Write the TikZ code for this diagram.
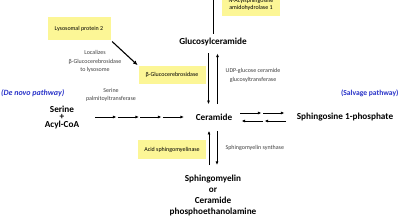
\documentclass[tikz,border=0pt]{standalone}
\usepackage{fontspec}
\setmainfont{Carlito}
\usetikzlibrary{arrows.meta,calc}

\definecolor{enzyellow}{RGB}{252,246,150}
\definecolor{pathblue}{RGB}{40,50,200}

\tikzset{
  metab/.style={font=\fontsize{9.2}{11}\selectfont\bfseries, align=center},
  enzyme/.style={fill=enzyellow, font=\fontsize{6}{7}\selectfont, align=center},
  note/.style={font=\fontsize{6}{8.5}\selectfont, align=center, text=black!75},
  pathway/.style={font=\fontsize{7.6}{8}\selectfont\bfseries, text=pathblue},
  rxn/.style={-{Latex[length=3.6pt,width=3pt]}, line width=0.8pt}
}

\begin{document}
\begin{tikzpicture}[x=1pt,y=-1pt]
        \useasboundingbox (0,0) rectangle (400,220);
        \clip (0,0) rectangle (400,220);

        % Metabolites
        \node[metab] (glc) at (213,42) {Glucosylceramide};
        \node[metab] (cer) at (214,117) {Ceramide};
        \node[metab] (s1p) at (345,117) {Sphingosine 1-phosphate};
        \node[metab] (ser) at (62,117) {Serine\\[-3.5pt]+\\[-3.5pt]Acyl-CoA};
        \node[metab] (sm) at (213,195) {Sphingomyelin\\or\\Ceramide\\phosphoethanolamine};

        % Enzymes (yellow boxes)
        \node[enzyme, minimum width=63pt, minimum height=23pt] (lp2) at (79,28.5) {Lysosomal protein 2};
        \node[enzyme, minimum width=67pt, minimum height=18pt] (gcb) at (172,75) {β-Glucocerebrosidase};
        \node[enzyme, minimum width=68pt, minimum height=19pt] (asm) at (172,149.5) {Acid sphingomyelinase};
        \node[enzyme, minimum width=58pt, minimum height=24pt] (nas) at (251,4) {N-Acylsphingosine\\amidohydrolase 1};

        % Pathway labels
        \node[pathway, font=\fontsize{8}{8}\selectfont\bfseries\itshape, anchor=west] (denovo) at (-2.5,93) {(De novo pathway)};
        \node[pathway, anchor=east] (salvage) at (402,93) {(Salvage pathway)};

        % Plain notes
        \node[note] (loc) at (95,61.5) {Localizes\\β-Glucocerebrosidase\\to lysosome};
        \node[note] (spt) at (111,95) {Serine\\palmitoyltransferase};
        \node[note] (ugcg) at (253,75.5) {UDP-glucose ceramide\\glucosyltransferase};
        \node[note, anchor=west] (sms) at (222,148) {Sphingomyelin synthase};

        % Line leaving the top of the picture
        \coordinate (top) at (213,-5);
        \draw[line width=0.8pt] (glc.north) ++(0,-1) -- (top);

        % Lysosomal protein 2 -> beta-Glucocerebrosidase
        \draw[-{Latex[length=4.5pt,width=4pt]}, line width=1.1pt, shorten <=2pt, shorten >=1pt] (lp2.south east) -- (gcb.north west);

        % Glucosylceramide <-> Ceramide
        \draw[rxn, shorten <=4pt, shorten >=6pt] ([xshift=-4.5pt]glc.south) -- ([xshift=-5.5pt]cer.north);
        \draw[rxn, shorten <=6pt, shorten >=4pt] ([xshift=3.5pt]cer.north) -- ([xshift=4.5pt]glc.south);

        % Ceramide <-> Sphingomyelin
        \draw[rxn, shorten <=6pt, shorten >=7pt] ([xshift=-4pt]sm.north) -- ([xshift=-5pt]cer.south);
        \draw[rxn, shorten <=7pt, shorten >=6pt] ([xshift=3pt]cer.south) -- ([xshift=4pt]sm.north);

        % De novo chain
        \foreach \i in {0,...,4} {
                \coordinate (d\i) at (95+22.5*\i,117);
            }
        \foreach \i/\j in {0/1,1/2,2/3,3/4} {
                \draw[rxn, shorten >=1pt] (d\i) -- (d\j);
            }

        % Ceramide <-> Sphingosine 1-phosphate
        \foreach \i in {0,1,2} {
                \coordinate (e\i) at (240+23*\i,117);
            }
        \foreach \i/\j in {0/1,1/2} {
                \draw[rxn, shorten >=1.5pt] ([yshift=4pt]e\i) -- ([yshift=4pt]e\j);
                \draw[rxn, shorten >=1.5pt] ([yshift=-4pt]e\j) -- ([yshift=-4pt]e\i);
            }
    \end{tikzpicture}
\end{document}
